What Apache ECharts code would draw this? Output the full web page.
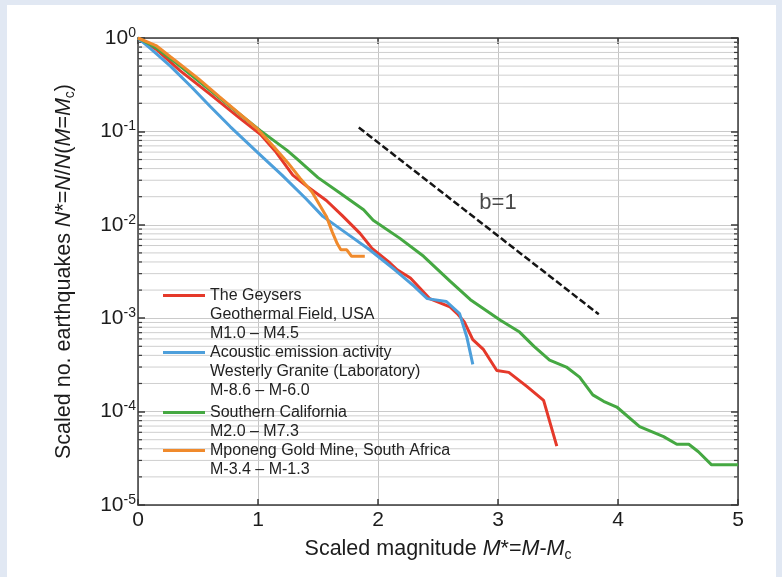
<!DOCTYPE html>
<html><head><meta charset="utf-8">
<script src="https://cdn.jsdelivr.net/npm/echarts@6/dist/echarts.min.js"></script>
<style>html,body{margin:0;padding:0;background:#e1e8f3}#c{width:782px;height:577px}</style>
</head><body><div id="c"></div>
<script>
// ---- data ----
const geysersX = [0, 0.15, 0.35, 0.6, 0.85, 1.02, 1.15, 1.29, 1.41, 1.57, 1.7, 1.85, 1.95, 2.1, 2.16, 2.27, 2.43, 2.6, 2.66, 2.72, 2.79, 2.88, 2.99, 3.09, 3.24, 3.38, 3.49];
const geysersY = [1, 0.76, 0.447, 0.251, 0.138, 0.093, 0.06, 0.034, 0.0257, 0.0182, 0.0126, 0.0081, 0.0056, 0.0039, 0.0033, 0.0027, 0.00162, 0.00132, 0.00112, 0.00091, 0.00059, 0.00046, 0.000275, 0.000263, 0.000186, 0.000132, 0.0000427];
const aeX = [0, 0.1, 0.27, 0.45, 0.6, 0.77, 1.0, 1.2, 1.4, 1.54, 1.75, 1.93, 2.14, 2.3, 2.41, 2.57, 2.68, 2.74, 2.79];
const aeY = [1, 0.78, 0.50, 0.295, 0.186, 0.112, 0.059, 0.034, 0.019, 0.0123, 0.0079, 0.0054, 0.0033, 0.0022, 0.00162, 0.00151, 0.00112, 0.00063, 0.00032];
const socalX = [0, 0.15, 0.29, 0.63, 0.9, 1.02, 1.24, 1.32, 1.5, 1.68, 1.88, 1.96, 2.18, 2.38, 2.6, 2.77, 3.02, 3.18, 3.3, 3.43, 3.57, 3.68, 3.79, 3.88, 3.99, 4.18, 4.38, 4.49, 4.59, 4.67, 4.78, 5.0];
const socalY = [1, 0.79, 0.575, 0.257, 0.135, 0.102, 0.063, 0.0513, 0.032, 0.022, 0.0145, 0.0112, 0.0072, 0.0046, 0.0025, 0.00158, 0.00095, 0.00071, 0.0005, 0.000355, 0.0003, 0.000234, 0.000151, 0.000129, 0.000112, 0.000069, 0.000054, 0.0000447, 0.0000447, 0.0000372, 0.0000269, 0.0000269];
const mponengX = [0, 0.15, 0.27, 0.35, 0.5, 0.68, 0.91, 1.0, 1.13, 1.25, 1.35, 1.45, 1.52, 1.57, 1.62, 1.66, 1.69, 1.74, 1.78, 1.89];
const mponengY = [1, 0.83, 0.63, 0.525, 0.37, 0.234, 0.132, 0.105, 0.069, 0.046, 0.0316, 0.0224, 0.0158, 0.0123, 0.0083, 0.0063, 0.0054, 0.0054, 0.0046, 0.0046];
const bLineX = [1.84, 3.84];
const bLineY = [0.11, 0.0011];
const bLabel = { x: 3.0, y: 0.017, text: 'b=1' };

const xTicks = [0, 1, 2, 3, 4, 5];
const decades = [1e-5, 1e-4, 1e-3, 1e-2, 1e-1];
const minorMultipliers = [2, 3, 4, 5, 6, 7, 8, 9];

const nameGeysers = 'The Geysers\nGeothermal Field, USA\nM1.0 \u2013 M4.5';
const nameAE = 'Acoustic emission activity\nWesterly Granite (Laboratory)\nM-8.6 \u2013 M-6.0';
const nameSC = 'Southern California\nM2.0 \u2013 M7.3';
const nameMp = 'Mponeng Gold Mine, South Africa\nM-3.4 \u2013 M-1.3';

// ---- build ----
const zip = (xs, ys) => xs.map((x, i) => [x, ys[i]]);
const minorValues = [];
decades.forEach(d => minorMultipliers.forEach(m => minorValues.push(d * m)));

const FONT = '"Liberation Sans", Arial, Helvetica, sans-serif';
const axisColor = '#3a3a3a';
const txt = '#1c1c1c';

const chart = echarts.init(document.getElementById('c'), null, { renderer: 'canvas' });

const lineSeries = (name, xs, ys, color) => ({
  type: 'line', name, data: zip(xs, ys), symbol: 'none', showSymbol: false,
  lineStyle: { width: 3, color }, itemStyle: { color, borderWidth: 0 }, z: 3,
  silent: true
});

const iconPath = h => 'path://M0,0L0.01,0L0,0.01Z M0,8L42,8L42,11L0,11Z M0,' + h + 'L0.01,' + h + 'L0,' + (h - 0.01) + 'Z';

const titleRich = {
  t: { fontSize: 21.5, color: txt, fontFamily: FONT, lineHeight: 26 },
  i: { fontSize: 21.5, color: txt, fontFamily: FONT, fontStyle: 'italic', lineHeight: 26 },
  sub: { fontSize: 14, color: txt, fontFamily: FONT, verticalAlign: 'bottom', lineHeight: 16 }
};

const option = {
  animation: false,
  backgroundColor: '#e1e8f3',
  graphic: [{ type: 'rect', shape: { x: 7, y: 5, width: 769, height: 572 }, style: { fill: '#ffffff' }, z: -10, silent: true }],
  grid: { left: 138, right: 44, top: 38, bottom: 72, containLabel: false },
  xAxis: [{
    type: 'value', min: 0, max: 5, interval: 1, position: 'bottom',
    axisLine: { show: true, onZero: false, lineStyle: { color: axisColor, width: 1.5 } },
    axisTick: { show: true, inside: true, length: 6, lineStyle: { color: axisColor, width: 1.5 } },
    axisLabel: { fontSize: 21, color: txt, margin: 5, fontFamily: FONT, formatter: v => xTicks.includes(v) ? String(v) : '' },
    splitLine: { show: true, lineStyle: { color: '#c4c4c4', width: 1 } },
    name: '{t|Scaled magnitude }{i|M}{t|*=}{i|M}{t|-}{i|M}{sub|c}',
    nameLocation: 'middle', nameGap: 31,
    nameTextStyle: { rich: titleRich }
  }, {
    type: 'value', min: 0, max: 5, interval: 1, position: 'top',
    axisLine: { show: true, onZero: false, lineStyle: { color: axisColor, width: 1.5 } },
    axisTick: { show: true, inside: true, length: 6, lineStyle: { color: axisColor, width: 1.5 } },
    axisLabel: { show: false }, splitLine: { show: false }
  }],
  yAxis: [{
    type: 'log', logBase: 10, min: 1e-5, max: 1, position: 'left',
    axisLine: { show: true, onZero: false, lineStyle: { color: axisColor, width: 1.5 } },
    axisTick: { show: true, inside: true, length: 7, lineStyle: { color: axisColor, width: 1.5 } },
    axisLabel: {
      margin: 2, fontFamily: FONT,
      formatter: v => '{b|10}{s|' + Math.round(Math.log10(v)) + '}',
      rich: {
        b: { fontSize: 21, color: txt, fontFamily: FONT, lineHeight: 24 },
        s: { fontSize: 14, color: txt, fontFamily: FONT, verticalAlign: 'top', lineHeight: 14 }
      }
    },
    splitLine: { show: true, lineStyle: { color: '#cacaca', width: 1 } },
    name: '{t|Scaled no. earthquakes }{i|N}{t|*=}{i|N}{t|/}{i|N}{t|(}{i|M}{t|=}{i|M}{sub|c}{t|)}',
    nameLocation: 'middle', nameGap: 61,
    nameTextStyle: { rich: titleRich }
  }, {
    type: 'log', logBase: 10, min: 1e-5, max: 1, position: 'right',
    axisLine: { show: true, onZero: false, lineStyle: { color: axisColor, width: 1.5 } },
    axisTick: { show: true, inside: true, length: 7, lineStyle: { color: axisColor, width: 1.5 } },
    axisLabel: { show: false }, splitLine: { show: false }
  }],
  legend: [{
    orient: 'vertical', left: 163, top: 286, padding: 0, itemGap: 0,
    itemWidth: 42, itemHeight: 57, icon: iconPath(57), selectedMode: false,
    itemStyle: { borderWidth: 0 },
    data: [nameGeysers, nameAE],
    textStyle: { fontSize: 16, lineHeight: 19, color: '#222', fontFamily: FONT }
  }, {
    orient: 'vertical', left: 163, top: 403, padding: 0, itemGap: 0,
    itemWidth: 42, itemHeight: 38, icon: iconPath(38), selectedMode: false,
    itemStyle: { borderWidth: 0 },
    data: [nameSC, nameMp],
    textStyle: { fontSize: 16, lineHeight: 19, color: '#222', fontFamily: FONT }
  }],
  series: [{
    type: 'custom', name: 'minorGrid', coordinateSystem: 'cartesian2d', xAxisIndex: 0, yAxisIndex: 0,
    data: minorValues.map(v => [0, v]), encode: { x: 0, y: 1 }, silent: true, z: 1, clip: false,
    renderItem: (params, api) => {
      const v = api.value(1);
      const l = api.coord([0, v]);
      const r = api.coord([5, v]);
      return { type: 'group', children: [
        { type: 'line', shape: { x1: l[0], y1: l[1], x2: r[0], y2: r[1] }, style: { stroke: '#cfcfcf', lineWidth: 1 } },
        { type: 'line', shape: { x1: l[0], y1: l[1], x2: l[0] + 4, y2: l[1] }, style: { stroke: axisColor, lineWidth: 1.2 } },
        { type: 'line', shape: { x1: r[0] - 4, y1: r[1], x2: r[0], y2: r[1] }, style: { stroke: axisColor, lineWidth: 1.2 } }
      ] };
    }
  },
  lineSeries(nameGeysers, geysersX, geysersY, '#e5392a'),
  lineSeries(nameAE, aeX, aeY, '#4d9fdb'),
  lineSeries(nameSC, socalX, socalY, '#45a842'),
  lineSeries(nameMp, mponengX, mponengY, '#f08a2c'),
  {
    type: 'line', name: 'b=1 line', data: zip(bLineX, bLineY), symbol: 'none', silent: true,
    lineStyle: { type: [7, 3], width: 2.5, color: '#151515' }, z: 4
  }, {
    type: 'scatter', name: 'b label', data: [[bLabel.x, bLabel.y]], symbolSize: 1, silent: true,
    itemStyle: { color: 'rgba(0,0,0,0)' },
    label: { show: true, position: 'inside', formatter: bLabel.text, fontSize: 22, color: txt, fontFamily: FONT }, z: 5
  }]
};
chart.setOption(option);
</script>
</body></html>
